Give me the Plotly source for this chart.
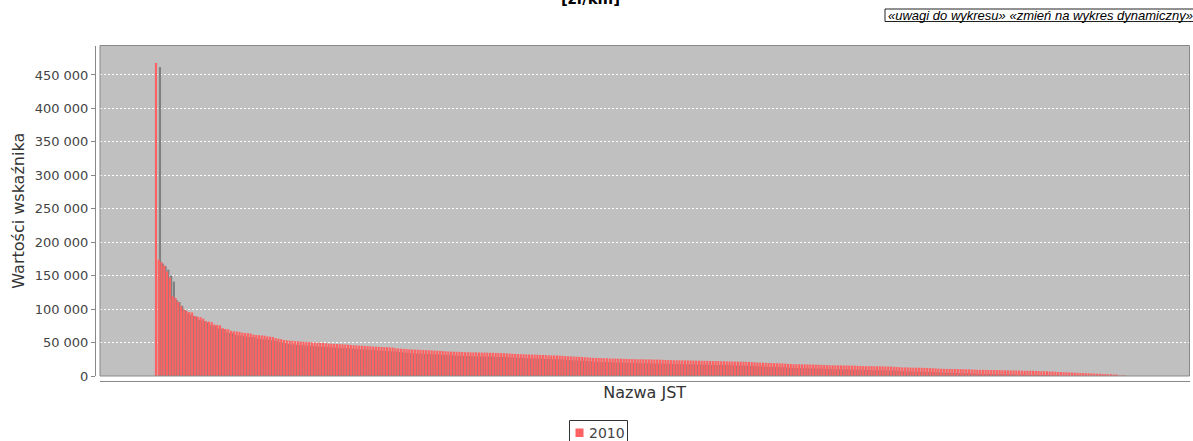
import plotly.graph_objects as go

# ---------------- data ----------------
series_name = "2010"
values_2010 = [
    468000, 174000, 170000, 165000, 156000, 147000,
    119600, 116600, 111000, 104600, 99700, 97200, 95700, 94800,
    89500, 88700, 87900, 85700, 82000, 81200, 80600, 77000, 76200, 75600,
    71500, 70300, 69800, 67500, 66800, 66500, 66000, 64800, 64300, 64000, 63500,
    61800, 61300, 61000, 60700, 60300, 59200, 58800, 58300, 56500, 55800, 55200,
    53800, 53200, 52800, 52400, 52100, 51800, 51500, 51300, 51000, 50600,
    50200, 49900, 49800, 49600, 49300, 49000,
    48500, 48200, 48000, 47800, 47600, 47400, 47100, 46800, 46400,
    46000, 45700, 45500, 45300, 45100, 44800, 44400,
    44000, 43800, 43600, 43400, 43200, 43000, 42800, 42500,
    41500, 41100, 40800, 40500, 40200,
    39800, 39600, 39400, 39300, 39200, 39000, 38800, 38500,
    38200, 38000, 37800, 37600, 37300, 37000,
    36700, 36500, 36300, 36200, 36000, 35800, 35600,
    35500, 35400, 35300, 35300, 35200, 35100, 35000, 34900, 34700,
    34600, 34500, 34400, 34300, 34100, 33800,
    33500, 33200, 33000, 32900, 32700, 32500, 32300,
    32100, 32000, 31900, 31800, 31600, 31400, 31200,
    31000, 30900, 30800, 30700, 30500, 30200, 29800,
    29500, 29300, 29100, 28900, 28700, 28400, 28100, 27800,
    27400, 27200, 27000, 26900, 26800, 26600, 26400,
    26200, 26100, 26000, 25900, 25800, 25700, 25600, 25400, 25200,
    25100, 25000, 25000, 24900, 24900, 24800, 24700, 24600, 24500, 24400, 24200, 24000, 23800,
    23700, 23600, 23500, 23500, 23400, 23400, 23300, 23200, 23100, 23000, 22900, 22800, 22700,
    22600, 22500, 22400, 22400, 22300, 22200, 22100, 22000,
    21800, 21700, 21600, 21500, 21400, 21300, 21200, 21000, 20800,
    20500, 20200, 20000, 19800, 19600, 19500, 19400, 19300, 19200, 19000, 18800, 18500, 18200,
    17900, 17700, 17600, 17500, 17400, 17400, 17300, 17200, 17100, 17000, 16800, 16600, 16400,
    16200, 16100, 16000, 16000, 15900, 15900, 15800, 15700, 15600, 15500, 15400, 15200, 15000, 14900,
    14800, 14700, 14600, 14600, 14500, 14500, 14400, 14300, 14200, 14000, 13800, 13500, 13200, 12900,
    12800, 12700, 12600, 12500, 12400, 12400, 12300, 12200, 12000, 11800, 11600, 11300, 11000, 10800,
    10700, 10600, 10600, 10500, 10500, 10400, 10300, 10200, 10000, 9900, 9700, 9500, 9300, 9200,
    9100, 9100, 9000, 9000, 8900, 8900, 8800, 8700, 8600, 8500, 8400, 8300, 8200, 8100,
    8000, 7900, 7900, 7800, 7700, 7600, 7400, 7200,
    7100, 7000, 6900, 6700, 6400, 6100,
    5900, 5700, 5500, 5400, 5200, 5000, 4700,
    4500, 4300, 4100, 4000, 3800, 3600, 3400,
    3200, 3100, 3000, 2800, 2500,
    1800, 1000,
    600, 300, 100, 0, 0, 0,
]
y_tick_values = [0, 50000, 100000, 150000, 200000, 250000, 300000, 350000, 400000, 450000]
chart_title = "[zł/km]"
x_title = "Nazwa JST"
y_title = "Wartości wskaźnika"
links_text = "«uwagi do wykresu» «zmień na wykres dynamiczny»"
bar_color = "#FF6262"
shadow_color = "#808080"

# ---------------- geometry helpers ----------------
W, H = 1193, 441
ML, MR, MT, MB = 95, 3, 45, 60
PW, PH = W - ML - MR, H - MT - MB


def px_x(px):
    return (px - ML) / PW


def px_y(py):
    return (H - MB - py) / PH


plot_left, plot_right = 100, 1189.5
plot_top, plot_bottom = 45.5, 376
y_max = 494000
x_range = [-20.1, 371.2]
units_per_px = (x_range[1] - x_range[0]) / (plot_right - plot_left)
val_per_px = y_max / (plot_bottom - plot_top)
shadow_dx = 4 * units_per_px
shadow_dy = 4 * val_per_px
bar_w = 0.78

xs = list(range(len(values_2010)))

fig = go.Figure()
fig.add_trace(go.Bar(
    x=xs, y=values_2010, base=-shadow_dy, width=bar_w,
    offset=-bar_w / 2 + shadow_dx,
    marker=dict(color=shadow_color, line=dict(width=0)),
    showlegend=False, hoverinfo="skip", name="shadow",
))
fig.add_trace(go.Bar(
    x=xs, y=values_2010, width=bar_w, offset=-bar_w / 2,
    marker=dict(color=bar_color, line=dict(width=0)),
    name=series_name, showlegend=False,
))

fig.update_layout(
    width=W, height=H, autosize=False,
    margin=dict(l=ML, r=MR, t=MT, b=MB, pad=0),
    paper_bgcolor="white",
    plot_bgcolor="#C0C0C0",
    barmode="overlay",
    separators=", ",
    showlegend=False,
    font=dict(family="DejaVu Sans", size=13, color="#444444"),
    xaxis=dict(
        domain=[px_x(plot_left), min(1.0, px_x(plot_right))],
        range=x_range, showticklabels=False, ticks="", showgrid=False,
        zeroline=False, showline=True, linecolor="#888888", linewidth=1,
        anchor="free", position=0,
        title=dict(text=x_title, font=dict(size=16, color="#333333"), standoff=5),
    ),
    yaxis=dict(
        domain=[px_y(plot_bottom), px_y(plot_top)],
        range=[0, y_max], tickvals=y_tick_values, tickformat=",d",
        ticks="outside", ticklen=4, tickcolor="#888888",
        showline=True, linecolor="#888888", linewidth=1,
        showgrid=True, gridcolor="white", gridwidth=1, griddash="2px,2px",
        zeroline=False, anchor="free", position=0,
        tickfont=dict(size=13, color="#444444"),
        title=dict(text=y_title, font=dict(size=16, color="#333333"), standoff=5),
    ),
    shapes=[
        # plot outline
        dict(type="rect", xref="x domain", yref="y domain", x0=0, x1=1, y0=0, y1=1,
             line=dict(color="#888888", width=1), fillcolor="rgba(0,0,0,0)", layer="above"),
        # links box
        dict(type="rect", xref="paper", yref="paper",
             x0=px_x(885), x1=px_x(1210), y0=px_y(21.5), y1=px_y(9),
             line=dict(color="#222222", width=1), fillcolor="white", layer="above"),
        # legend box
        dict(type="rect", xref="paper", yref="paper",
             x0=px_x(569.5), x1=px_x(627.5), y0=px_y(448), y1=px_y(420.5),
             line=dict(color="#333333", width=1), fillcolor="white", layer="above"),
        # legend swatch
        dict(type="rect", xref="paper", yref="paper",
             x0=px_x(575.5), x1=px_x(583.5), y0=px_y(437), y1=px_y(428.5),
             line=dict(width=0), fillcolor=bar_color, layer="above"),
    ],
    annotations=[
        dict(text="<b>" + chart_title + "</b>", xref="paper", yref="paper",
             x=px_x(590), y=px_y(10), xanchor="center", yanchor="bottom",
             showarrow=False, font=dict(size=15, color="#000000", family="DejaVu Sans")),
        dict(text="<i>" + links_text + "</i>", xref="paper", yref="paper",
             x=px_x(886), y=px_y(15.3), xanchor="left", yanchor="middle",
             showarrow=False, font=dict(size=13, color="#000000", family="Liberation Sans")),
        dict(text=series_name, xref="paper", yref="paper",
             x=px_x(586.5), y=px_y(433), xanchor="left", yanchor="middle",
             showarrow=False, font=dict(size=14, color="#444444", family="DejaVu Sans")),
    ],
)

post_js = (
    "document.body.style.margin='0';"
    "document.body.style.overflow='hidden';"
    "var gd=document.getElementById('{plot_id}');"
    "Plotly.relayout(gd,{width:%d,height:%d});" % (W, H)
)

fig.write_html("out.html", config={"responsive": False, "displayModeBar": False},
               post_script=post_js)
